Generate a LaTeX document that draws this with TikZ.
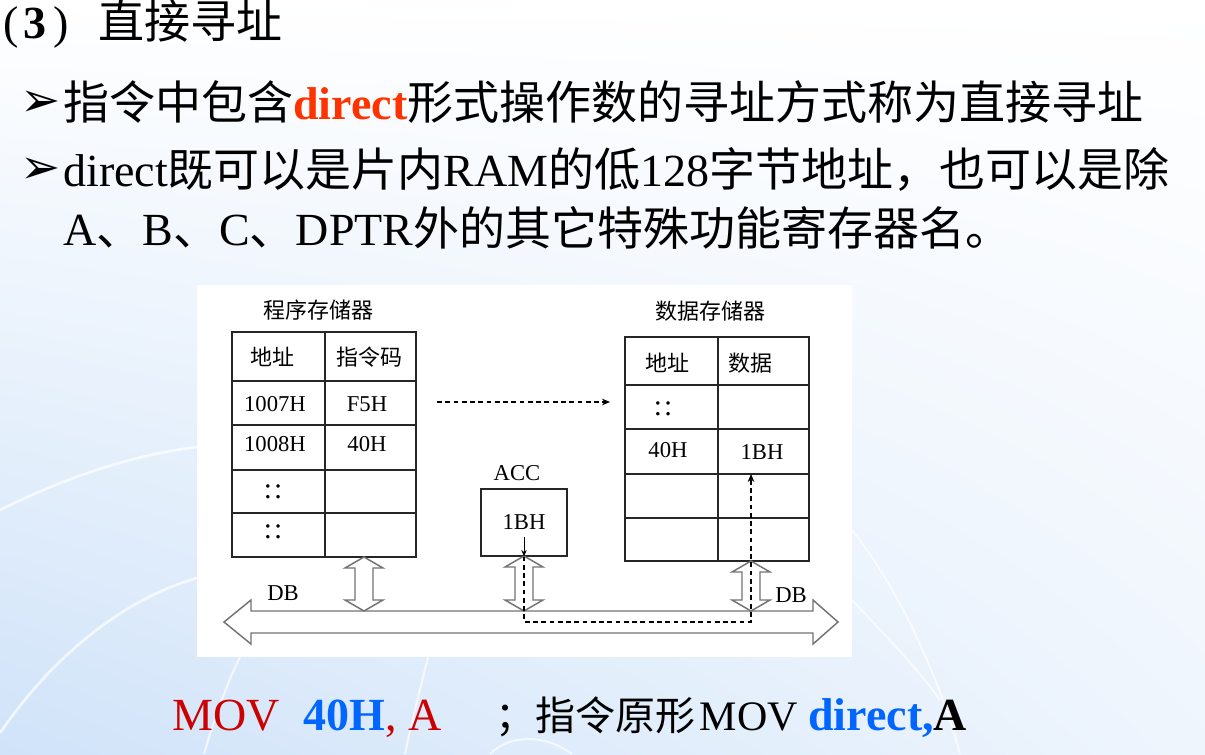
\documentclass[tikz,border=0pt]{standalone}
\usepackage{fontspec}
\setmainfont{Liberation Serif}
\newfontfamily\cjk{Noto Sans CJK SC}
\newfontfamily\dingfont{DejaVu Sans}
\usetikzlibrary{arrows.meta, positioning, shadings}
\definecolor{dirred}{RGB}{255,51,0}
\definecolor{movred}{RGB}{204,0,0}
\definecolor{opblue}{RGB}{0,102,255}
\definecolor{slideblue}{RGB}{208,227,249}
\definecolor{busgray}{RGB}{115,115,115}

\begin{document}
\begin{tikzpicture}[
          x=0.75pt, y=-0.75pt,
          bigtext/.style={
              anchor=base west,
              inner sep=0pt,
              font=\fontsize{34.5}{34.5}\selectfont
            },
          bullet/.style={
              inner sep=0pt,
              font=\dingfont\fontsize{36}{36}\selectfont
            },
          memtab/.style={
              draw=black!85,
              fill=white,
              line width=0.9pt,
              minimum width=138pt,
              inner sep=0pt
            },
          accbox/.style={
              draw=black!85,
              fill=white,
              line width=0.9pt,
              minimum width=64.5pt,
              minimum height=50.25pt,
              inner sep=0pt,
              font=\fontsize{17}{17}\selectfont
            },
          cell/.style={inner sep=0pt, font=\fontsize{17}{17}\selectfont},
          dotcell/.style={inner sep=0pt, font=\fontsize{22}{22}\selectfont},
          cjkcell/.style={inner sep=0pt, font=\cjk\fontsize{16.5}{16.5}\selectfont},
          gridline/.style={draw=black!85, line width=0.9pt},
          busline/.style={draw=busgray, fill=white, line width=1.1pt},
          swoosh/.style={draw=white, line width=1.5pt, opacity=0.7},
          dasharr/.style={dash pattern=on 3.6pt off 2.6pt, line width=0.85pt,
              -{Stealth[length=6pt, width=5pt]}},
          smallarr/.style={line width=0.7pt, -{Stealth[length=5pt, width=4pt]}}
        ]
        \useasboundingbox (0,0) rectangle (1205,754);
        \shade[upper left=white, upper right=white, lower left=slideblue,
          lower right=slideblue!35] (0,0) rectangle (1205,754);
        \draw[swoosh, line width=2pt] (0,510) .. controls (60,480) and (130,455) .. (197,447);
        \draw[swoosh, line width=2pt] (0,733) .. controls (50,660) and (120,600) .. (197,578);
        \draw[swoosh] (204,754) .. controls (214,720) and (226,685) .. (240,657);
        \draw[swoosh] (405,754) .. controls (412,720) and (420,690) .. (428,657);
        \draw[swoosh] (490,754) .. controls (510,734) and (545,734) .. (572,754);
        \draw[swoosh] (852,530) .. controls (900,590) and (940,680) .. (960,754);
        \draw[swoosh] (852,600) .. controls (880,630) and (915,665) .. (940,700);

        \node[bigtext] (title) at (3,38)
          {(\kern3.5pt\textbf{3}\kern5.5pt)\kern22pt{\cjk 直接寻址}};
        \node[bullet] (bulleta) at (41,104) {➢};
        \node[bigtext] (linea) at (63,119)
          {{\cjk 指令中包含}\textbf{\color{dirred}direct}{\cjk 形式操作数的寻址方式称为直接寻址}};
        \node[bullet] (bulletb) at (41,171) {➢};
        \node[bigtext] (lineb) at (63,186)
          {direct{\cjk 既可以是片内}RAM{\cjk 的低}128{\cjk 字节地址，也可以是除}};
        \node[bigtext] (linec) at (63,245)
          {A{\cjk 、}B{\cjk 、}C{\cjk 、}DPTR{\cjk 外的其它特殊功能寄存器名。}};

        \fill[white] (197,285) rectangle (852,657);

        \node[cjkcell] (progtitle) at (318,310) {程序存储器};
        \node[cjkcell] (datatitle) at (710,311) {数据存储器};

        \node[memtab, minimum height=168.75pt] (progtab) at (324,444.5) {};
        \draw[gridline] (325,332) -- (325,557);
        \foreach \y in {381,425,470,513}
          \draw[gridline] (232,\y) -- (416,\y);
        \node[cjkcell] (progaddr) at (272,357) {地址};
        \node[cjkcell] (progcode) at (369,357) {指令码};
        \node[cell] (paddra) at (275,404) {1007H};
        \node[cell] (pcodea) at (367,404) {F5H};
        \node[cell] (paddrb) at (275,444) {1008H};
        \node[cell] (pcodeb) at (367,444) {40H};
        \node[dotcell] (pdotsa) at (273,492) {:\kern1.5pt:};
        \node[dotcell] (pdotsb) at (273,532) {:\kern1.5pt:};

        \node[memtab, minimum height=168pt] (datatab) at (717,449) {};
        \draw[gridline] (718,337) -- (718,561);
        \foreach \y in {385,429,474,518}
          \draw[gridline] (625,\y) -- (809,\y);
        \node[cjkcell] (dataaddr) at (667,363) {地址};
        \node[cjkcell] (datadata) at (750,363) {数据};
        \node[dotcell] (ddots) at (663,409) {:\kern1.5pt:};
        \node[cell] (daddr) at (668,450) {40H};
        \node[cell] (dval) at (762,452) {1BH};

        \node[cell] (acclabel) at (517,473) {ACC};
        \node[accbox] (acc) at (524,522.5) {1BH};

        \coordinate (fetchfrom) at (437,402);
        \coordinate (fetchto) at (610,402);
        \draw[dasharr] (fetchfrom) -- (fetchto);

        \draw[busline] (224,622) -- (251,600) -- (251,611) -- (813,611) -- (813,600)
          -- (838,622) -- (813,644) -- (813,633) -- (251,633) -- (251,644) -- cycle;
        \foreach \cx/\yt in {364/557, 524/556, 751/561}
          \draw[busline] (\cx,\yt) -- (\cx+19,\yt+11) -- (\cx+9,\yt+11) -- (\cx+9,600)
            -- (\cx+19,600) -- (\cx,611) -- (\cx-19,600) -- (\cx-9,600)
            -- (\cx-9,\yt+11) -- (\cx-19,\yt+11) -- cycle;
        \node[cell] (dbleft) at (283,593) {DB};
        \node[cell] (dbright) at (791,595) {DB};

        \coordinate (accout) at (524,537);
        \draw[smallarr] (accout) -- (acc.south);
        \coordinate (busjoint) at (524,622);
        \coordinate (cellin) at (751,474);
        \draw[dasharr] (acc.south) -- (busjoint) -| (cellin);

        \node[bigtext, text=movred] (movop) at (172,730) {MOV};
        \node[bigtext] (movarg) at (303,730)
          {\textbf{\color{opblue}40H}\color{movred}, A};
        \node[bigtext, font=\fontsize{31.5}{31.5}\selectfont] (remark) at (495,730)
          {{\cjk\fontsize{30}{30}\selectfont ；指令原形}\kern3.5pt MOV};
        \node[bigtext] (remarkarg) at (808,730)
          {\textbf{\color{opblue}direct,}\textbf{A}};
      \end{tikzpicture}
\end{document}
